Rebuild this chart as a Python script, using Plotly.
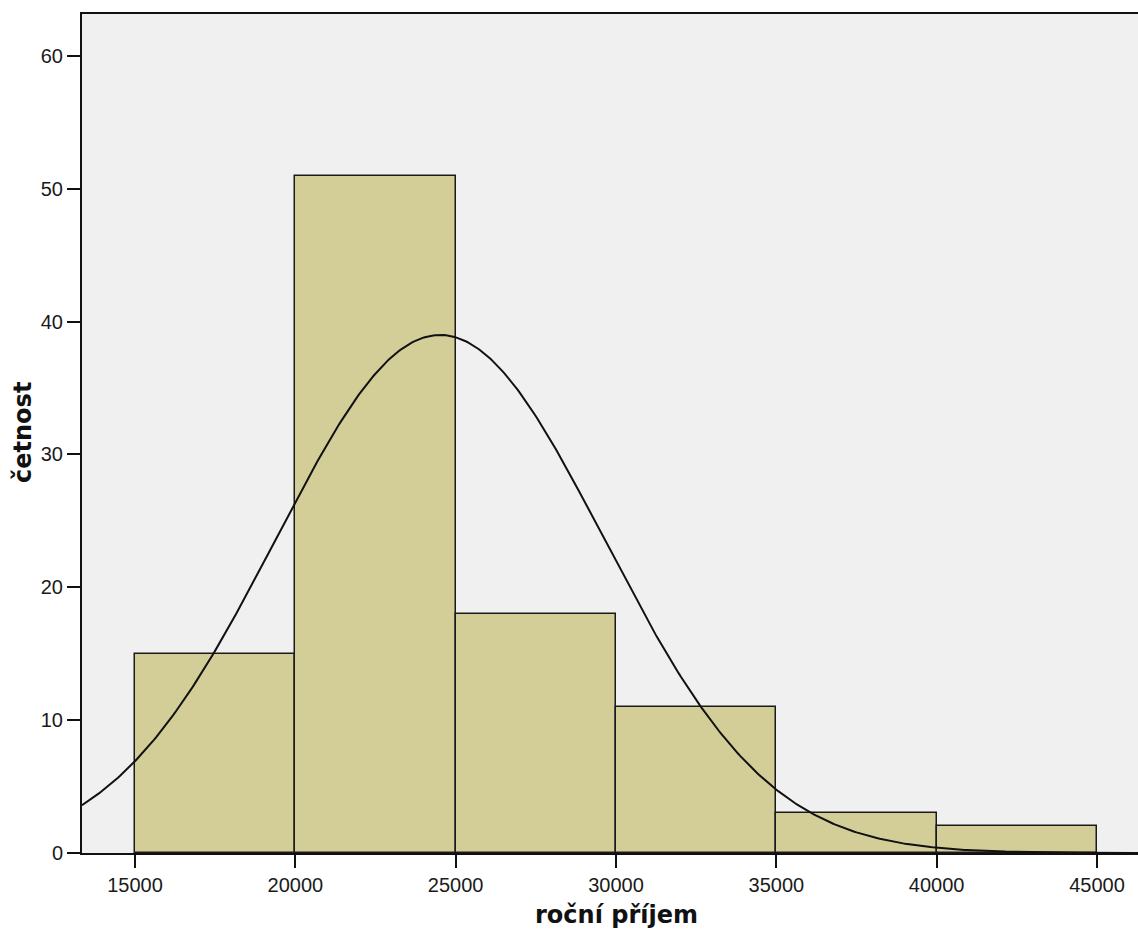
import numpy as np
import plotly.graph_objects as go

# Histogram data
bin_edges = [15000, 20000, 25000, 30000, 35000, 40000, 45000]
counts = [15, 51, 18, 11, 3, 2]

# Normal curve parameters
curve_mean = 24513
curve_sd = 5115

x_ticks = [15000, 20000, 25000, 30000, 35000, 40000, 45000]
y_ticks = [0, 10, 20, 30, 40, 50, 60]

x_title = "roční příjem"
y_title = "četnost"

x_range = [13347, 46279]
y_range = [0, 63.16]

n_total = sum(counts)
bin_width = bin_edges[1] - bin_edges[0]
lefts = bin_edges[:-1]
widths = [bin_edges[i + 1] - bin_edges[i] for i in range(len(counts))]

xs = np.linspace(x_range[0], x_range[1], 500)
ys = n_total * bin_width / (curve_sd * np.sqrt(2 * np.pi)) * np.exp(-0.5 * ((xs - curve_mean) / curve_sd) ** 2)

fig = go.Figure()
fig.add_trace(go.Bar(
    x=lefts, y=counts, width=widths, offset=0,
    marker=dict(color="#D3CE98", line=dict(color="#1a1a1a", width=1.5)),
    hoverinfo="x+y", showlegend=False,
))
fig.add_trace(go.Scatter(
    x=xs, y=ys, mode="lines", line=dict(color="#111111", width=2),
    hoverinfo="skip", showlegend=False,
))

fig.update_layout(
    width=1138, height=931,
    margin=dict(l=82, r=0, t=14, b=78),
    paper_bgcolor="white", plot_bgcolor="#F0F0F0",
    bargap=0,
    font=dict(family="Liberation Sans, Arial, sans-serif", size=20, color="#1a1a1a"),
    xaxis=dict(
        range=x_range, tickvals=x_ticks, ticktext=[str(v) for v in x_ticks],
        showgrid=False, zeroline=False,
        showline=True, linecolor="#111111", linewidth=2, mirror=True,
        ticks="outside", ticklen=13, tickwidth=2, tickcolor="#111111",
        automargin=False,
    ),
    yaxis=dict(
        range=y_range, tickvals=y_ticks, ticktext=[str(v) for v in y_ticks],
        showgrid=False, zeroline=False,
        showline=True, linecolor="#111111", linewidth=2,
        ticks="outside", ticklen=13, tickwidth=2, tickcolor="#111111",
        automargin=False,
    ),
    annotations=[
        dict(text=x_title, xref="paper", yref="paper", x=0.5066, y=-0.0739,
             xanchor="center", yanchor="middle", showarrow=False,
             font=dict(family="DejaVu Sans, sans-serif", size=24, color="#111111", weight="bold")),
        dict(text=y_title, xref="paper", yref="paper", x=-0.0559, y=0.5018,
             xanchor="center", yanchor="middle", showarrow=False, textangle=-90,
             font=dict(family="DejaVu Sans, sans-serif", size=24, color="#111111", weight="bold")),
    ],
)

fig.write_html(
    "out.html",
    config={"displayModeBar": False},
    post_script="document.body.style.margin='0';document.body.style.padding='0';document.body.style.overflow='hidden';",
)
